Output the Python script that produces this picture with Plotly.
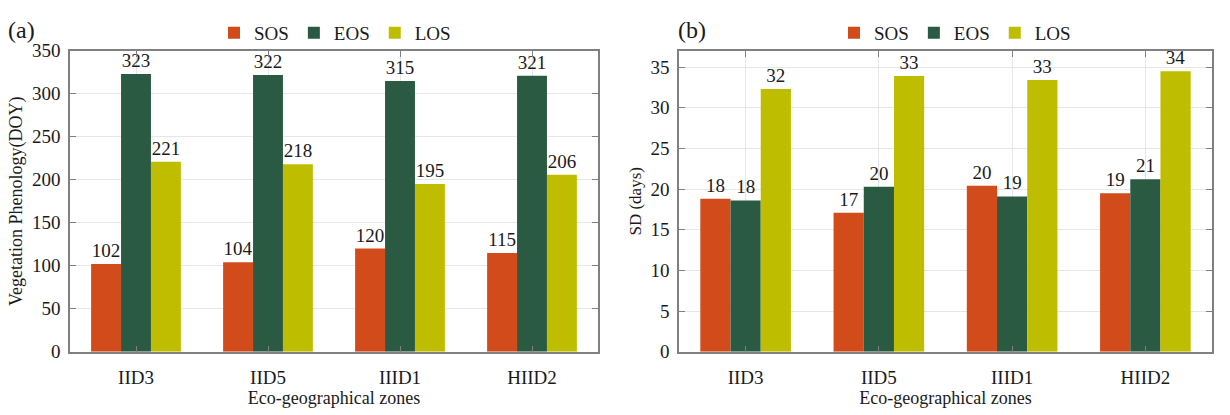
import plotly.graph_objects as go

zones = ["IID3", "IID5", "IIID1", "HIID2"]
series_names = ["SOS", "EOS", "LOS"]

doy_sos = [102, 104, 120, 115]
doy_eos = [323, 322, 315, 321]
doy_los = [221, 218, 195, 206]

sd_sos = [18.8, 17.1, 20.4, 19.5]
sd_eos = [18.6, 20.3, 19.1, 21.2]
sd_los = [32.3, 33.9, 33.4, 34.5]
sd_sos_labels = ["18", "17", "20", "19"]
sd_eos_labels = ["18", "20", "19", "21"]
sd_los_labels = ["32", "33", "33", "34"]

colors = ["#D14B1B", "#2A5B42", "#BFBD00"]
FONT = "Liberation Serif"
TXT = "#1A1A1A"

fig = go.Figure()

left_vals = [doy_sos, doy_eos, doy_los]
for name, vals, col in zip(series_names, left_vals, colors):
    fig.add_trace(go.Bar(
        x=zones, y=vals, name=name, marker=dict(color=col, line=dict(width=0)),
        text=[str(v) for v in vals], textposition="outside", cliponaxis=False,
        textfont=dict(family=FONT, size=19, color=TXT),
        xaxis="x", yaxis="y", legend="legend"))

right_vals = [sd_sos, sd_eos, sd_los]
right_labels = [sd_sos_labels, sd_eos_labels, sd_los_labels]
for name, vals, labs, col in zip(series_names, right_vals, right_labels, colors):
    fig.add_trace(go.Bar(
        x=zones, y=vals, name=name, marker=dict(color=col, line=dict(width=0)),
        text=labs, textposition="outside", cliponaxis=False,
        textfont=dict(family=FONT, size=19, color=TXT),
        xaxis="x2", yaxis="y2", legend="legend2"))

axis_common = dict(
    showline=True, linecolor="#808080", linewidth=1.5, mirror="ticks",
    ticks="inside", ticklen=6, tickcolor="#808080",
    showgrid=True, gridcolor="#E6E6E6", gridwidth=1, zeroline=False,
    tickfont=dict(family=FONT, size=19, color=TXT),
)

y_dom = [55 / 415, 372 / 415]

fig.update_layout(
    width=1230, height=415,
    margin=dict(l=0, r=0, t=0, b=0),
    paper_bgcolor="white", plot_bgcolor="white",
    barmode="group", bargap=0.32, bargroupgap=0.0,
    font=dict(family=FONT, size=18, color=TXT),
    xaxis=dict(domain=[70 / 1230, 598 / 1230], anchor="y", ticklabelstandoff=8,
               title=dict(text="Eco-geographical zones", font=dict(family=FONT, size=18, color=TXT), standoff=2),
               **axis_common),
    yaxis=dict(domain=y_dom, anchor="x", range=[0, 350], dtick=50, ticklabelstandoff=4,
               title=dict(text="Vegetation Phenology(DOY)", font=dict(family=FONT, size=18, color=TXT), standoff=5),
               **axis_common),
    xaxis2=dict(domain=[679 / 1230, 1212 / 1230], anchor="y2", ticklabelstandoff=8,
                title=dict(text="Eco-geographical zones", font=dict(family=FONT, size=18, color=TXT), standoff=2),
                **axis_common),
    yaxis2=dict(domain=y_dom, anchor="x2", range=[0, 37], dtick=5, ticklabelstandoff=4,
                title=dict(text="SD (days)", font=dict(family=FONT, size=17, color=TXT), standoff=4),
                **axis_common),
    legend=dict(orientation="h", x=335 / 1230, y=1 - 24 / 415, xanchor="center", yanchor="middle",
                font=dict(family=FONT, size=19, color=TXT), bgcolor="rgba(0,0,0,0)",
                itemwidth=30, tracegroupgap=0),
    legend2=dict(orientation="h", x=955 / 1230, y=1 - 24 / 415, xanchor="center", yanchor="middle",
                 font=dict(family=FONT, size=19, color=TXT), bgcolor="rgba(0,0,0,0)",
                 itemwidth=30, tracegroupgap=0),
    annotations=[
        dict(text="(a)", x=6 / 1230, y=1 - 21 / 415, xref="paper", yref="paper",
             xanchor="left", yanchor="middle", showarrow=False, font=dict(family=FONT, size=24, color=TXT)),
        dict(text="(b)", x=676 / 1230, y=1 - 21 / 415, xref="paper", yref="paper",
             xanchor="left", yanchor="middle", showarrow=False, font=dict(family=FONT, size=24, color=TXT)),
    ],
)

fig.write_html("out.html")
